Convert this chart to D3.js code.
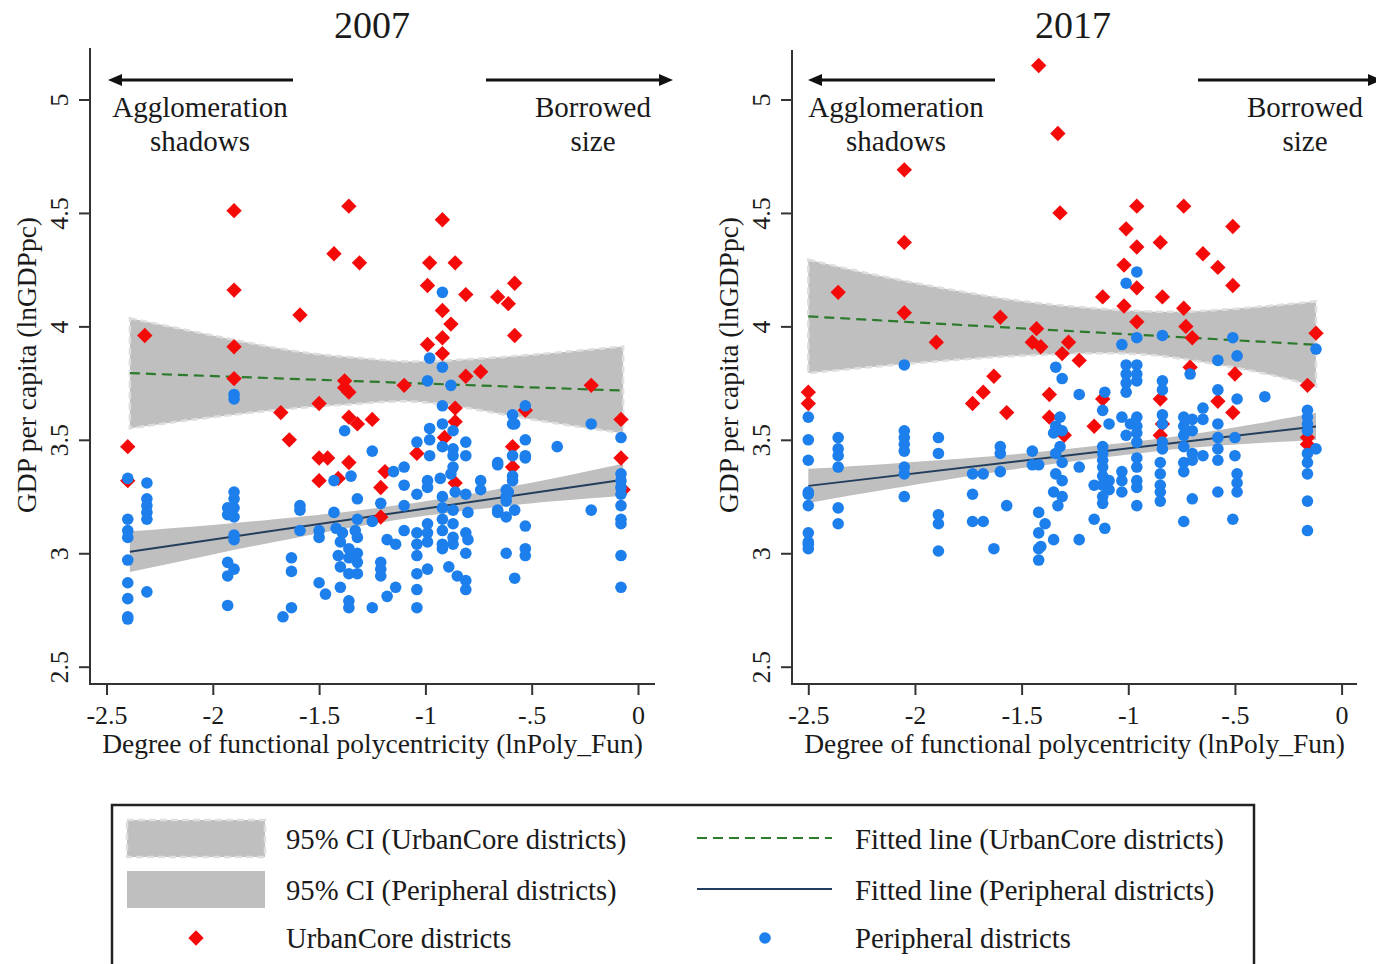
<!DOCTYPE html>
<html>
<head>
<meta charset="utf-8">
<script src="https://cdn.jsdelivr.net/npm/d3@7"></script>
<style>
  body { margin: 0; background: #fff; }
  text { font-family: "Liberation Serif", "Times New Roman", serif; fill: #1a1a1a; }
</style>
</head>
<body>
<svg id="chart" width="1376" height="964"></svg>
<script>
// ---- data ----
var xTicks = [-2.5, -2, -1.5, -1, -0.5, 0];
var xTickLabels = ["-2.5", "-2", "-1.5", "-1", "-.5", "0"];
var yTicks = [2.5, 3, 3.5, 4, 4.5, 5];
var yTickLabels = ["2.5", "3", "3.5", "4", "4.5", "5"];

// UrbanCore districts, 2007  [lnPoly_Fun, lnGDPpc]
var core2007 = [
  [-2.40,3.47],[-2.40,3.32],[-2.32,3.96],
  [-1.90,4.51],[-1.90,4.16],[-1.90,3.91],[-1.90,3.77],
  [-1.59,4.05],[-1.43,4.32],[-1.68,3.62],[-1.50,3.66],[-1.64,3.50],
  [-1.50,3.42],[-1.46,3.42],[-1.50,3.32],
  [-1.36,4.53],[-0.92,4.47],[-1.31,4.28],[-0.98,4.28],[-0.86,4.28],[-0.58,4.19],
  [-0.99,4.18],[-0.81,4.14],[-0.66,4.13],[-0.61,4.10],[-0.92,4.07],[-0.88,4.01],
  [-0.92,3.95],[-0.99,3.92],[-0.58,3.96],[-0.92,3.88],[-0.81,3.78],[-0.74,3.80],
  [-1.10,3.74],[-1.38,3.76],[-1.38,3.73],[-1.36,3.71],[-0.22,3.74],[-0.08,3.59],
  [-1.36,3.60],[-1.32,3.57],[-1.25,3.59],[-0.86,3.64],[-0.86,3.58],[-0.53,3.63],
  [-1.36,3.40],[-1.04,3.44],[-0.91,3.51],[-0.59,3.47],[-0.59,3.38],[-1.41,3.33],
  [-1.19,3.36],[-1.21,3.29],[-0.86,3.31],[-1.21,3.16],[-0.08,3.42],[-0.07,3.28]
];

// Peripheral districts, 2007
var peri2007 = [
  [-2.40,3.33],[-2.40,3.15],[-2.40,3.10],[-2.40,3.07],[-2.40,2.97],[-2.40,2.87],[-2.40,2.80],[-2.40,2.72],[-2.40,2.71],
  [-2.31,3.31],[-2.31,3.24],[-2.31,3.21],[-2.31,3.18],[-2.31,3.15],[-2.31,2.83],
  [-1.90,3.70],[-1.90,3.68],[-1.90,3.27],[-1.90,3.24],[-1.90,3.20],[-1.90,3.16],[-1.90,3.08],[-1.90,3.06],[-1.90,2.93],
  [-1.93,3.20],[-1.93,3.17],[-1.93,2.96],[-1.93,2.90],[-1.93,2.77],
  [-1.59,3.21],[-1.59,3.19],[-1.59,3.10],[-1.63,2.98],[-1.63,2.92],[-1.63,2.76],[-1.67,2.72],
  [-1.50,3.10],[-1.50,3.07],[-1.50,2.87],[-1.47,2.82],[-1.43,3.32],[-1.43,3.18],
  [-0.92,4.15],[-0.98,3.86],[-0.92,3.82],[-0.99,3.76],[-0.88,3.74],[-0.92,3.65],[-0.53,3.65],
  [-0.59,3.61],[-0.58,3.57],[-0.92,3.57],[-0.98,3.55],[-0.87,3.54],[-1.38,3.54],[-0.98,3.50],
  [-1.04,3.49],[-0.81,3.49],[-0.92,3.47],[-0.87,3.46],[-0.53,3.50],[-1.25,3.45],[-0.98,3.43],
  [-0.87,3.43],[-0.81,3.43],[-0.59,3.43],[-0.53,3.42],[-1.10,3.38],[-1.15,3.36],[-0.87,3.38],
  [-0.66,3.39],[-1.35,3.34],[-1.10,3.30],[-0.99,3.32],[-0.93,3.33],[-0.88,3.35],
  [-0.74,3.32],[-0.74,3.28],[-0.59,3.34],[-0.62,3.28],[-1.04,3.26],[-0.99,3.29],[-0.92,3.25],
  [-0.86,3.27],[-0.81,3.26],[-0.62,3.25],[-1.32,3.24],[-1.21,3.22],[-1.10,3.21],
  [-0.92,3.20],[-0.87,3.19],[-0.80,3.18],[-0.66,3.18],[-0.58,3.19],[-0.62,3.16],[-1.32,3.15],
  [-1.25,3.14],[-1.42,3.11],[-1.39,3.09],[-1.33,3.10],[-1.32,3.07],[-1.40,3.05],
  [-1.10,3.10],[-1.04,3.09],[-0.99,3.13],[-0.99,3.09],[-0.92,3.15],[-0.92,3.10],[-0.87,3.13],
  [-0.87,3.07],[-0.81,3.09],[-0.80,3.06],[-0.53,3.12],[-1.18,3.06],[-1.14,3.04],[-1.04,3.04],
  [-0.99,3.05],[-0.92,3.04],[-0.87,3.04],[-0.92,3.02],[-0.81,3.00],[-0.53,3.02],[-0.53,2.99],
  [-0.62,3.00],[-1.36,3.02],[-1.36,2.98],[-1.32,3.00],[-1.41,2.99],[-1.32,2.96],
  [-1.40,2.94],[-1.36,2.91],[-1.32,2.91],[-1.21,2.96],[-1.21,2.93],[-1.21,2.90],[-1.04,2.99],
  [-1.04,2.91],[-0.99,2.93],[-0.89,2.94],[-0.85,2.90],[-0.81,2.88],[-0.81,2.84],[-0.58,2.89],
  [-1.40,2.85],[-1.36,2.79],[-1.36,2.76],[-1.25,2.76],[-1.18,2.81],[-1.14,2.85],
  [-1.04,2.84],[-1.04,2.76],
  [-0.38,3.47],[-0.22,3.19],[-0.22,3.57],
  [-0.08,3.51],[-0.08,3.35],[-0.08,3.32],[-0.08,3.29],[-0.08,3.26],[-0.08,3.21],[-0.08,3.15],
  [-0.08,3.13],[-0.08,2.99],[-0.08,2.85],
  [-0.59,3.57],[-0.53,3.43],[-0.66,3.40],[-0.59,3.32],[-0.61,3.27],[-0.62,3.23],[-0.66,3.19]
];

// UrbanCore districts, 2017
var core2017 = [
  [-2.05,4.69],[-2.05,4.37],[-2.36,4.15],[-2.05,4.06],[-1.90,3.93],[-1.60,4.04],
  [-1.42,5.15],[-1.33,4.85],[-1.45,3.93],[-1.43,3.99],[-1.63,3.78],
  [-2.50,3.71],[-2.50,3.66],[-1.73,3.66],[-1.68,3.71],[-1.57,3.62],
  [-1.32,4.50],[-0.96,4.53],[-0.74,4.53],[-0.51,4.44],[-1.01,4.43],[-0.96,4.35],
  [-0.85,4.37],[-0.65,4.32],[-0.58,4.26],[-1.02,4.27],[-0.51,4.18],[-0.96,4.17],
  [-1.12,4.13],[-0.84,4.13],[-1.02,4.09],[-0.74,4.08],[-0.96,4.02],[-0.73,4.00],
  [-0.70,3.95],[-1.41,3.91],[-1.28,3.93],[-1.31,3.88],[-1.23,3.85],
  [-0.71,3.82],[-0.50,3.79],[-0.12,3.97],[-0.16,3.74],[-1.37,3.70],[-1.12,3.68],
  [-0.85,3.68],[-0.58,3.67],[-0.51,3.62],[-1.37,3.60],[-1.16,3.56],[-0.85,3.52],
  [-0.16,3.51],[-0.16,3.48],[-1.30,3.52],[-0.84,3.57]
];

// Peripheral districts, 2017
var peri2017 = [
  [-2.50,3.60],[-2.50,3.50],[-2.50,3.41],[-2.50,3.27],[-2.50,3.26],[-2.50,3.21],[-2.50,3.09],[-2.50,3.05],[-2.50,3.04],[-2.50,3.02],
  [-2.36,3.51],[-2.36,3.46],[-2.36,3.43],[-2.36,3.38],[-2.36,3.20],[-2.36,3.13],
  [-2.05,3.83],[-2.05,3.54],[-2.05,3.51],[-2.05,3.48],[-2.05,3.45],[-2.05,3.38],[-2.05,3.35],[-2.05,3.25],
  [-1.89,3.51],[-1.89,3.44],[-1.89,3.17],[-1.89,3.13],[-1.89,3.01],
  [-1.73,3.35],[-1.73,3.26],[-1.73,3.14],[-1.68,3.35],[-1.68,3.14],
  [-1.60,3.47],[-1.60,3.44],[-1.60,3.36],[-1.63,3.02],[-1.57,3.21],
  [-1.45,3.45],[-1.45,3.39],[-1.42,3.39],[-1.42,3.18],[-1.42,3.09],[-1.42,3.02],[-1.42,2.97],
  [-0.96,4.24],[-1.01,4.19],[-1.03,3.92],[-0.96,3.95],[-0.84,3.96],[-0.51,3.95],[-0.49,3.87],
  [-0.58,3.85],[-0.12,3.90],[-0.71,3.79],[-1.34,3.82],[-1.31,3.77],[-1.23,3.70],[-1.01,3.83],
  [-0.96,3.83],[-1.01,3.79],[-0.96,3.79],[-1.01,3.75],[-0.96,3.76],[-1.01,3.71],[-1.11,3.71],
  [-0.84,3.76],[-0.84,3.72],[-0.58,3.72],[-0.49,3.68],[-0.36,3.69],[-0.65,3.64],[-1.12,3.63],
  [-1.09,3.57],[-1.03,3.60],[-0.99,3.57],[-0.96,3.60],[-0.84,3.61],[-0.84,3.57],[-0.74,3.60],
  [-0.70,3.59],[-0.65,3.59],[-0.58,3.57],[-1.32,3.60],[-1.34,3.56],[-1.35,3.53],[-1.31,3.54],
  [-1.32,3.47],[-0.96,3.56],[-0.96,3.53],[-1.01,3.52],[-0.96,3.49],[-0.84,3.49],[-0.84,3.46],
  [-0.74,3.56],[-0.74,3.52],[-0.70,3.54],[-0.74,3.47],[-0.70,3.44],[-0.74,3.40],[-0.70,3.41],
  [-0.74,3.36],[-0.65,3.43],[-0.58,3.51],[-0.58,3.46],[-0.58,3.41],[-0.50,3.51],[-0.50,3.43],
  [-0.49,3.35],[-0.49,3.31],[-0.49,3.27],[-0.58,3.27],[-0.70,3.24],[-0.74,3.14],[-0.51,3.15],
  [-0.16,3.63],[-0.16,3.60],[-0.16,3.57],[-0.16,3.54],[-0.16,3.44],[-0.16,3.40],[-0.16,3.35],
  [-0.16,3.23],[-0.16,3.10],[-0.12,3.46],
  [-1.12,3.47],[-1.12,3.44],[-1.12,3.41],[-1.12,3.38],[-1.12,3.34],[-1.12,3.30],[-1.12,3.25],
  [-1.12,3.22],[-1.09,3.32],[-1.09,3.28],[-1.16,3.30],[-1.16,3.15],[-1.11,3.11],
  [-1.03,3.36],[-1.03,3.32],[-1.03,3.27],[-0.96,3.42],[-0.96,3.38],[-0.96,3.32],[-0.96,3.29],
  [-0.96,3.21],[-0.85,3.40],[-0.85,3.35],[-0.85,3.30],[-0.85,3.27],[-0.85,3.23],
  [-1.34,3.44],[-1.31,3.40],[-1.34,3.35],[-1.31,3.32],[-1.35,3.27],[-1.31,3.25],[-1.33,3.21],
  [-1.39,3.13],[-1.35,3.06],[-1.23,3.06],[-1.23,3.38],[-1.41,3.03]
];

// fitted lines: [x, y] at the two ends
var coreFit2007 = [[-2.39, 3.794], [-0.07, 3.717]];
var periFit2007 = [[-2.39, 3.007], [-0.07, 3.324]];
var coreFit2017 = [[-2.50, 4.044], [-0.12, 3.919]];
var periFit2017 = [[-2.50, 3.297], [-0.12, 3.559]];

// 95% CI bands: x, lower, upper
var coreBandX2007 = [-2.39, -2.0, -1.6, -1.3, -1.07, -0.8, -0.5, -0.07];
var coreBandLo2007 = [3.551, 3.60, 3.64, 3.66, 3.669, 3.64, 3.59, 3.529];
var coreBandHi2007 = [4.036, 3.96, 3.889, 3.86, 3.845, 3.855, 3.875, 3.911];
var periBandX2007 = [-2.39, -2.0, -1.6, -1.3, -1.0, -0.7, -0.4, -0.07];
var periBandLo2007 = [2.917, 2.995, 3.07, 3.121, 3.165, 3.20, 3.229, 3.254];
var periBandHi2007 = [3.097, 3.125, 3.16, 3.191, 3.229, 3.276, 3.329, 3.394];

var coreBandX2017 = [-2.5, -2.1, -1.7, -1.4, -1.0, -0.7, -0.4, -0.12];
var coreBandLo2017 = [3.794, 3.83, 3.86, 3.875, 3.88, 3.85, 3.80, 3.735];
var coreBandHi2017 = [4.294, 4.21, 4.14, 4.10, 4.07, 4.066, 4.085, 4.11];
var periBandX2017 = [-2.5, -2.1, -1.7, -1.4, -1.0, -0.7, -0.4, -0.12];
var periBandLo2017 = [3.222, 3.286, 3.347, 3.388, 3.435, 3.465, 3.485, 3.499];
var periBandHi2017 = [3.372, 3.396, 3.423, 3.448, 3.489, 3.525, 3.571, 3.619];

var legendLabels = [
  "95% CI (UrbanCore districts)", "95% CI (Peripheral districts)", "UrbanCore districts",
  "Fitted line (UrbanCore districts)", "Fitted line (Peripheral districts)", "Peripheral districts"
];

// ---- style ----
var RED = "#f50a0a", BLUE = "#1d7fec", BAND = "#bfbfbf", BAND_EDGE = "#dedede";
var GREEN = "#2c7a2c", NAVY = "#233e5c", AXIS = "#333";

var svg = d3.select("#chart");

var y = d3.scaleLinear().domain([2.5, 5]).range([666.7, 99.5]);

function zipBand(xs, lo, hi) {
  return xs.map(function (v, i) { return { x: v, lo: lo[i], hi: hi[i] }; });
}

/**
 * Draws one panel (one year)
 */
function drawPanel(p) {
  var x = d3.scaleLinear().domain([-2.5, 0]).range(p.xRange);
  var g = svg.append("g");

  // bands
  var area = d3.area()
    .x(function (d) { return x(d.x); })
    .y0(function (d) { return y(d.lo); })
    .y1(function (d) { return y(d.hi); })
    .curve(d3.curveNatural);

  g.append("path")
    .datum(p.coreBand)
    .attr("d", area)
    .attr("fill", BAND)
    .attr("stroke", BAND_EDGE)
    .attr("stroke-width", 2.5)
    .attr("stroke-dasharray", "7,4");

  g.append("path")
    .datum(p.periBand)
    .attr("d", area)
    .attr("fill", BAND);

  // fitted lines
  var line = d3.line().x(function (d) { return x(d[0]); }).y(function (d) { return y(d[1]); });
  g.append("path").datum(p.coreFit).attr("d", line)
    .attr("stroke", GREEN).attr("stroke-width", 2.2).attr("stroke-dasharray", "10,6").attr("fill", "none");
  g.append("path").datum(p.periFit).attr("d", line)
    .attr("stroke", NAVY).attr("stroke-width", 2).attr("fill", "none");

  // points
  var diamond = d3.symbol().type(d3.symbolSquare).size(118);
  g.selectAll(".core").data(p.core).enter().append("path")
    .attr("d", diamond)
    .attr("transform", function (d) { return "translate(" + x(d[0]) + "," + y(d[1]) + ") rotate(45)"; })
    .attr("fill", RED);

  g.selectAll(".peri").data(p.peri).enter().append("circle")
    .attr("cx", function (d) { return x(d[0]); })
    .attr("cy", function (d) { return y(d[1]); })
    .attr("r", 5.8)
    .attr("fill", BLUE);

  // axes
  var ax = g.append("g")
    .attr("transform", "translate(0," + p.axisY + ")")
    .call(d3.axisBottom(x).tickValues(xTicks)
      .tickFormat(function (d, i) { return xTickLabels[i]; })
      .tickSize(11).tickSizeOuter(0).tickPadding(11));
  ax.select(".domain").remove();
  ax.selectAll("line").attr("stroke", AXIS).attr("stroke-width", 2);
  ax.selectAll("text").attr("font-size", 26).attr("font-family", "Liberation Serif").attr("fill", "#1a1a1a");

  var ay = g.append("g")
    .attr("transform", "translate(" + p.axisX + ",0)")
    .call(d3.axisLeft(y).tickValues(yTicks)
      .tickFormat(function (d, i) { return yTickLabels[i]; })
      .tickSize(11).tickSizeOuter(0));
  ay.select(".domain").remove();
  ay.selectAll("line").attr("stroke", AXIS).attr("stroke-width", 2);
  ay.selectAll("text")
    .attr("x", 0).attr("y", -22).attr("dy", 0)
    .attr("text-anchor", "middle")
    .attr("transform", "rotate(-90)")
    .attr("font-size", 26).attr("font-family", "Liberation Serif").attr("fill", "#1a1a1a");

  // spines
  g.append("line").attr("x1", p.axisX).attr("x2", p.axisX).attr("y1", p.axisTop).attr("y2", p.axisY + 1)
    .attr("stroke", AXIS).attr("stroke-width", 2);
  g.append("line").attr("x1", p.axisX).attr("x2", p.axisRight).attr("y1", p.axisY).attr("y2", p.axisY)
    .attr("stroke", AXIS).attr("stroke-width", 2);

  // titles
  g.append("text").attr("x", p.titleX).attr("y", 38).attr("text-anchor", "middle")
    .attr("font-size", 38).text(p.title);
  g.append("text").attr("x", (p.axisX + p.axisRight) / 2).attr("y", 753).attr("text-anchor", "middle")
    .attr("font-size", 27.5).text("Degree of functional polycentricity (lnPoly_Fun)");
  g.append("text")
    .attr("transform", "translate(" + (p.axisX - 54) + "," + 365 + ") rotate(-90)")
    .attr("text-anchor", "middle").attr("font-size", 27.5).text("GDP per capita (lnGDPpc)");

  // arrows and notes
  g.append("line").attr("x1", p.leftArrow[1]).attr("x2", p.leftArrow[0] + 12).attr("y1", 80).attr("y2", 80)
    .attr("stroke", "#111").attr("stroke-width", 3);
  g.append("path").attr("d", "M" + p.leftArrow[0] + ",80 l14,-6 l0,12 z").attr("fill", "#111");
  g.append("line").attr("x1", p.rightArrow[0]).attr("x2", p.rightArrow[1] - 12).attr("y1", 80).attr("y2", 80)
    .attr("stroke", "#111").attr("stroke-width", 3);
  g.append("path").attr("d", "M" + p.rightArrow[1] + ",80 l-14,-6 l0,12 z").attr("fill", "#111");

  g.append("text").attr("x", p.leftNoteX).attr("y", 117).attr("text-anchor", "middle").attr("font-size", 29).text("Agglomeration");
  g.append("text").attr("x", p.leftNoteX).attr("y", 151).attr("text-anchor", "middle").attr("font-size", 29).text("shadows");
  g.append("text").attr("x", p.rightNoteX).attr("y", 117).attr("text-anchor", "middle").attr("font-size", 29).text("Borrowed");
  g.append("text").attr("x", p.rightNoteX).attr("y", 151).attr("text-anchor", "middle").attr("font-size", 29).text("size");
}

drawPanel({
  title: "2007", titleX: 372,
  xRange: [106.5, 638], axisX: 90, axisY: 684, axisTop: 48, axisRight: 655,
  core: core2007, peri: peri2007, coreFit: coreFit2007, periFit: periFit2007,
  coreBand: zipBand(coreBandX2007, coreBandLo2007, coreBandHi2007),
  periBand: zipBand(periBandX2007, periBandLo2007, periBandHi2007),
  leftArrow: [108, 293], rightArrow: [486, 673], leftNoteX: 200, rightNoteX: 593
});

drawPanel({
  title: "2017", titleX: 1073,
  xRange: [808.3, 1341.6], axisX: 792, axisY: 684, axisTop: 50, axisRight: 1357,
  core: core2017, peri: peri2017, coreFit: coreFit2017, periFit: periFit2017,
  coreBand: zipBand(coreBandX2017, coreBandLo2017, coreBandHi2017),
  periBand: zipBand(periBandX2017, periBandLo2017, periBandHi2017),
  leftArrow: [808, 995], rightArrow: [1198, 1382], leftNoteX: 896, rightNoteX: 1305
});

// ---- legend ----
var lg = svg.append("g");
lg.append("rect").attr("x", 112).attr("y", 805).attr("width", 1142).attr("height", 175)
  .attr("fill", "#fff").attr("stroke", "#222").attr("stroke-width", 2.5);

lg.append("rect").attr("x", 127).attr("y", 820).attr("width", 138).attr("height", 37)
  .attr("fill", BAND).attr("stroke", BAND_EDGE).attr("stroke-width", 2.5).attr("stroke-dasharray", "7,4");
lg.append("rect").attr("x", 127).attr("y", 871).attr("width", 138).attr("height", 37).attr("fill", BAND);
lg.append("path").attr("d", d3.symbol().type(d3.symbolSquare).size(118))
  .attr("transform", "translate(196,938) rotate(45)").attr("fill", RED);

lg.append("line").attr("x1", 697).attr("x2", 832).attr("y1", 838).attr("y2", 838)
  .attr("stroke", GREEN).attr("stroke-width", 2.2).attr("stroke-dasharray", "10,6");
lg.append("line").attr("x1", 697).attr("x2", 832).attr("y1", 889).attr("y2", 889)
  .attr("stroke", NAVY).attr("stroke-width", 2);
lg.append("circle").attr("cx", 765).attr("cy", 938).attr("r", 5.8).attr("fill", BLUE);

var legendPos = [[286, 849], [286, 900], [286, 948], [855, 849], [855, 900], [855, 948]];
lg.selectAll(".lt").data(legendLabels).enter().append("text")
  .attr("x", function (d, i) { return legendPos[i][0]; })
  .attr("y", function (d, i) { return legendPos[i][1]; })
  .attr("font-size", 28.7)
  .text(function (d) { return d; });
</script>
</body>
</html>
